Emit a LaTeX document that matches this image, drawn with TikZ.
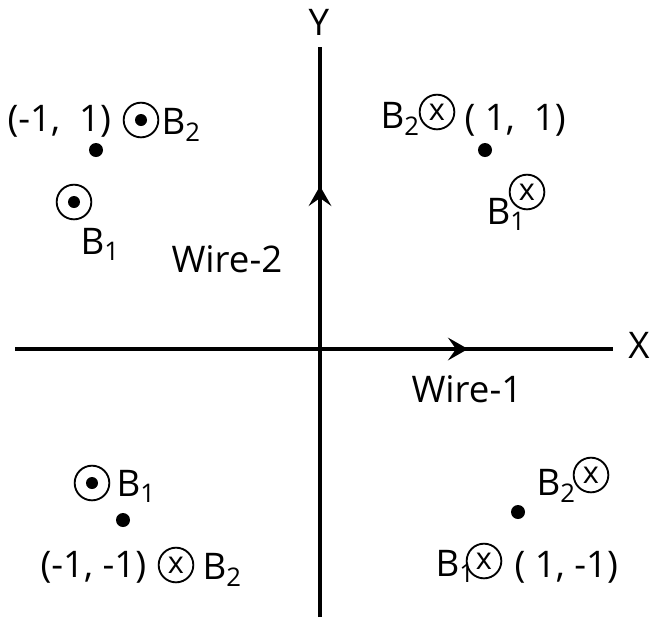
\documentclass[tikz,border=0pt]{standalone}
\usepackage{fontspec}
\setmainfont{Open Sans}
\usetikzlibrary{arrows.meta}

\tikzset{every picture/.style={line width=0.75pt}}
\tikzset{
  lbl/.style={anchor=base west, inner sep=0pt, font=\fontsize{27.5}{32}\selectfont},
  axislbl/.style={inner sep=0pt, font=\fontsize{27.5}{32}\selectfont},
  fieldout/.style={circle, draw, line width=1.4pt, minimum size=26pt, inner sep=0pt,
    path picture={\fill (path picture bounding box.center) circle (4.5pt);}},
  fieldin/.style={circle, draw, line width=1.4pt, minimum size=26pt, inner sep=0pt,
    font=\fontsize{23}{23}\selectfont},
  ptdot/.style={circle, fill, minimum size=10.5pt, inner sep=0pt},
  axis/.style={line width=3.5pt},
  axisarrow/.style={line width=3.5pt, -{Stealth[length=15pt, width=17pt, inset=6pt]}}
}

\begin{document}
\begin{tikzpicture}[x=0.75pt,y=0.75pt,yscale=-1,xscale=1]
\useasboundingbox (0,0) rectangle (650,619);

% Axes
\coordinate (xl) at (15,349);
\coordinate (xr) at (613,349);
\coordinate (yt) at (320,47);
\coordinate (yb) at (320,617);
\coordinate (orig) at (320,349);
\coordinate (xarr) at (468,349);
\coordinate (yarr) at (320,186);
\draw [axis] (xl) -- (xr);
\draw [axis] (yb) -- (yt);
\draw [axisarrow] (orig) -- (xarr);
\draw [axisarrow] (orig) -- (yarr);

% Axis labels
\node [axislbl] (ylbl) at (319,22) {Y};
\node [axislbl] (xlbl) at (639,345) {X};
\node [lbl] (wire2) at (171,272) {Wire-2};
\node [lbl] (wire1) at (411,402) {Wire-1};

% Point (-1, 1)
\node [ptdot] (pq2) at (96,150) {};
\node [lbl] (cq2) at (7,131) {(-1,\ \ 1)};
\node [fieldout] (f2q2) at (141,120) {};
\node [lbl] (b2q2) at (161,134) {B\textsubscript{2}};
\node [fieldout] (f1q2) at (74,202) {};
\node [lbl] (b1q2) at (80,254) {B\textsubscript{1}};

% Point (1, 1)
\node [ptdot] (pq1) at (485,150) {};
\node [lbl] (b2q1) at (380,128) {B\textsubscript{2}};
\node [fieldin] (f2q1) at (437,112) {x};
\node [lbl] (cq1) at (464,130) {(\ 1,\ \ 1)};
\node [lbl] (b1q1) at (486,224) {B\textsubscript{1}};
\node [fieldin] (f1q1) at (527,192) {x};

% Point (-1, -1)
\node [ptdot] (pq3) at (123,520) {};
\node [fieldout] (f1q3) at (92,483) {};
\node [lbl] (b1q3) at (116,496) {B\textsubscript{1}};
\node [lbl] (cq3) at (40,577) {(-1,\ -1)};
\node [fieldin] (f2q3) at (176,565) {x};
\node [lbl] (b2q3) at (202,579) {B\textsubscript{2}};

% Point (1, -1)
\node [ptdot] (pq4) at (518,512) {};
\node [lbl] (b2q4) at (536,495) {B\textsubscript{2}};
\node [fieldin] (f2q4) at (591,475) {x};
\node [lbl] (b1q4) at (435,576) {B\textsubscript{1}};
\node [fieldin] (f1q4) at (484,561) {x};
\node [lbl] (cq4) at (514,577) {(\ 1,\ -1)};

\end{tikzpicture}
\end{document}
